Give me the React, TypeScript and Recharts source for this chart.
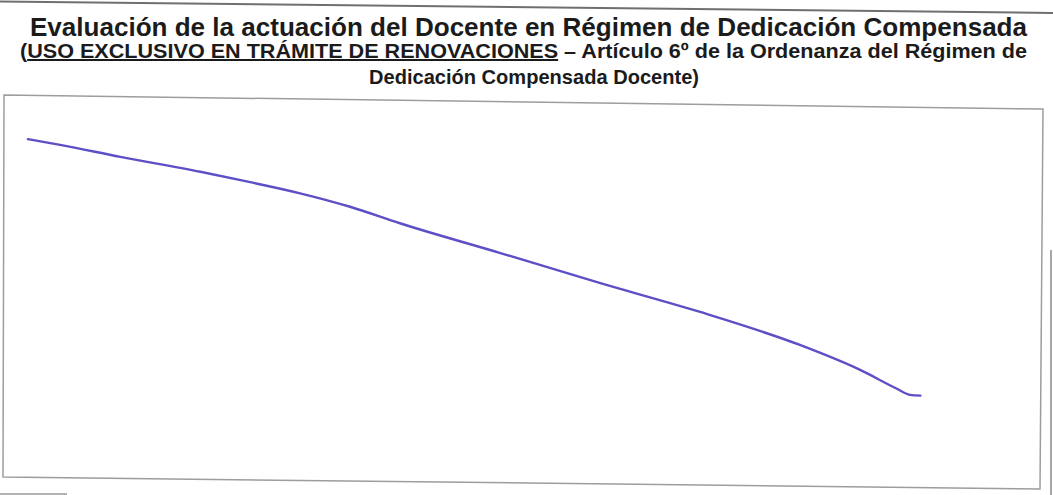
import React from 'react';
import { LineChart, Line, XAxis, YAxis } from 'recharts';

const trazoX = [2.3, 5.4, 11.2, 18.9, 23.7, 28.5, 33.3, 38.1, 47.7, 57.4, 67.0, 76.6, 82.4, 85.8, 87.2, 88.2];
const trazoY = [88.5, 87.0, 83.9, 80.0, 77.3, 74.4, 70.9, 66.6, 58.9, 51.0, 43.5, 34.9, 28.4, 23.7, 21.9, 21.7];

const titulo = 'Evaluación de la actuación del Docente en Régimen de Dedicación Compensada';
const subtituloSubrayado = 'USO EXCLUSIVO EN TRÁMITE DE RENOVACIONES';
const subtituloResto = ' – Artículo 6º de la Ordenanza del Régimen de';
const subtitulo2 = 'Dedicación Compensada Docente)';

const data = trazoX.map((x, i) => ({ x, y: trazoY[i] }));

const W = 1053;
const H = 495;
const FONT = '"Liberation Sans", Arial, Helvetica, sans-serif';

export default function App() {
  return (
    <div style={{ position: 'relative', width: W, height: H, background: '#fff', overflow: 'hidden' }}>
      <style>{'body{margin:0;background:#fff}'}</style>

      {/* encabezado y marco del formulario */}
      <svg width={W} height={H} style={{ position: 'absolute', left: 0, top: 0, pointerEvents: 'none' }}>
        <line x1={0} y1={1.5} x2={W} y2={13} stroke="#6f6f6f" strokeWidth={2} />
        <text x={30} y={36} fontFamily={FONT} fontWeight="bold" fontSize={25} fill="#1b1b1b"
          textLength={997} lengthAdjust="spacingAndGlyphs">{titulo}</text>
        <text x={20} y={58} fontFamily={FONT} fontWeight="bold" fontSize={20} fill="#1b1b1b"
          textLength={1007} lengthAdjust="spacingAndGlyphs">
          (<tspan style={{ textDecoration: 'underline' }}>{subtituloSubrayado}</tspan>{subtituloResto}
        </text>
        <text x={369} y={84} fontFamily={FONT} fontWeight="bold" fontSize={21} fill="#1b1b1b"
          textLength={330} lengthAdjust="spacingAndGlyphs">{subtitulo2}</text>
        <polygon points="4,95 1043,109 1040,489 3,477" fill="none" stroke="#9d9d9d" strokeWidth={1.5} />
        <line x1={1051} y1={250} x2={1051} y2={H} stroke="#8a8a8a" strokeWidth={1.5} />
        <line x1={0} y1={494} x2={67} y2={494} stroke="#9a9a9a" strokeWidth={1.5} />
      </svg>

      <div style={{ position: 'absolute', left: 0, top: 0 }}>
        <LineChart width={W} height={H} data={data} margin={{ top: 95, left: 4, right: 10, bottom: 16 }}>
          <XAxis dataKey="x" type="number" domain={[0, 100]} hide />
          <YAxis type="number" domain={[0, 100]} hide />
          <Line
            type="monotone"
            dataKey="y"
            stroke="#5d4fc6"
            strokeWidth={2.4}
            strokeLinecap="round"
            dot={false}
            activeDot={false}
            isAnimationActive={false}
          />
        </LineChart>
      </div>
    </div>
  );
}
